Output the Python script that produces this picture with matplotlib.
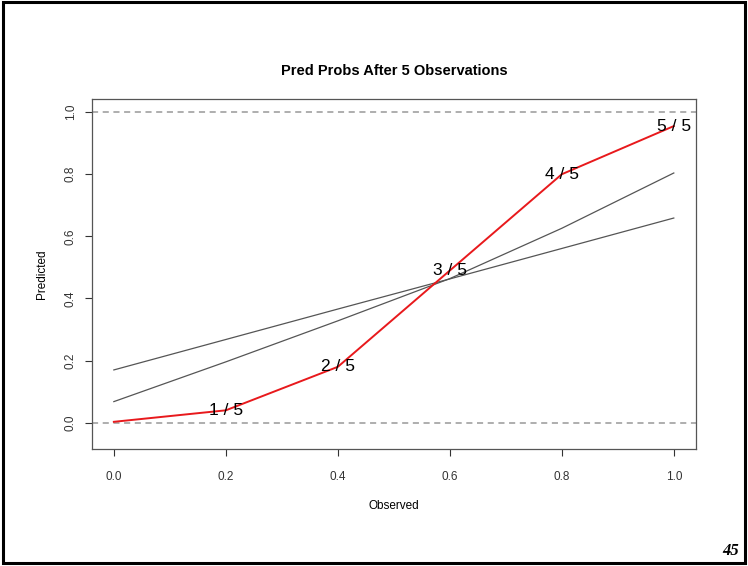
import numpy as np
import matplotlib
matplotlib.use("Agg")
import matplotlib.pyplot as plt
from matplotlib.patches import Rectangle

plt.rcParams["font.family"] = ["Liberation Sans", "DejaVu Sans"]

# observed proportions and the predicted probabilities after 5 observations
observed = [0.0, 0.2, 0.4, 0.6, 0.8, 1.0]
predicted = [0.003, 0.04, 0.18, 0.49, 0.80, 0.955]
labels = ["", "1 / 5", "2 / 5", "3 / 5", "4 / 5", "5 / 5"]

# two comparison curves evaluated on the same grid
grid = [0.0, 0.2, 0.4, 0.6, 0.8, 1.0]
curve_a = [0.170, 0.268, 0.366, 0.463, 0.561, 0.659]
curve_b = [0.068, 0.196, 0.328, 0.464, 0.626, 0.804]

ticks = [0.0, 0.2, 0.4, 0.6, 0.8, 1.0]

fig = plt.figure(figsize=(7.48, 5.66), dpi=100)
ax = fig.add_axes([0.123, 0.207, 0.807, 0.618])

ax.plot(grid, curve_a, color="#555555", lw=0.9)
ax.plot(grid, curve_b, color="#555555", lw=0.9)

ax.axhline(0, color="#999999", lw=1.1, ls=(0, (4, 3)))
ax.axhline(1, color="#999999", lw=1.1, ls=(0, (4, 3)))

ax.plot(observed, predicted, color="#e8191c", lw=1.4)
for x, y, s in zip(observed, predicted, labels):
    if s:
        ax.text(x, y, s, ha="center", va="center", fontsize=12.5)

ax.set_xlim(-0.039, 1.039)
ax.set_ylim(-0.084, 1.042)
ax.set_xticks(ticks)
ax.set_yticks(ticks)
ax.set_xticklabels([f"{t:.1f}" for t in ticks], fontsize=8.5)
ax.set_yticklabels([f"{t:.1f}" for t in ticks], fontsize=8.5,
                   rotation=90, va="center")
ax.tick_params(axis="x", direction="out", length=5, width=0.8,
               colors="#333333", pad=11)
ax.tick_params(axis="y", direction="out", length=5, width=0.8,
               colors="#333333", pad=6)
for sp in ax.spines.values():
    sp.set_color("#555555")
    sp.set_linewidth(0.9)

ax.set_xlabel("Observed", fontsize=8.5, labelpad=12)
ax.set_ylabel("Predicted", fontsize=8.5, labelpad=12)
ax.set_title("Pred Probs After 5 Observations", fontsize=10.5,
             fontweight="bold", pad=17)

# slide frame and page number
fig.patches.append(Rectangle((0.004, 0.006), 0.992, 0.99, transform=fig.transFigure,
                             fill=False, edgecolor="black", lw=2.2))
fig.text(0.988, 0.013, "45", ha="right", va="bottom", fontsize=12,
         family="Liberation Serif", style="italic", fontweight="bold")

fig.savefig("out.png", dpi=100)
